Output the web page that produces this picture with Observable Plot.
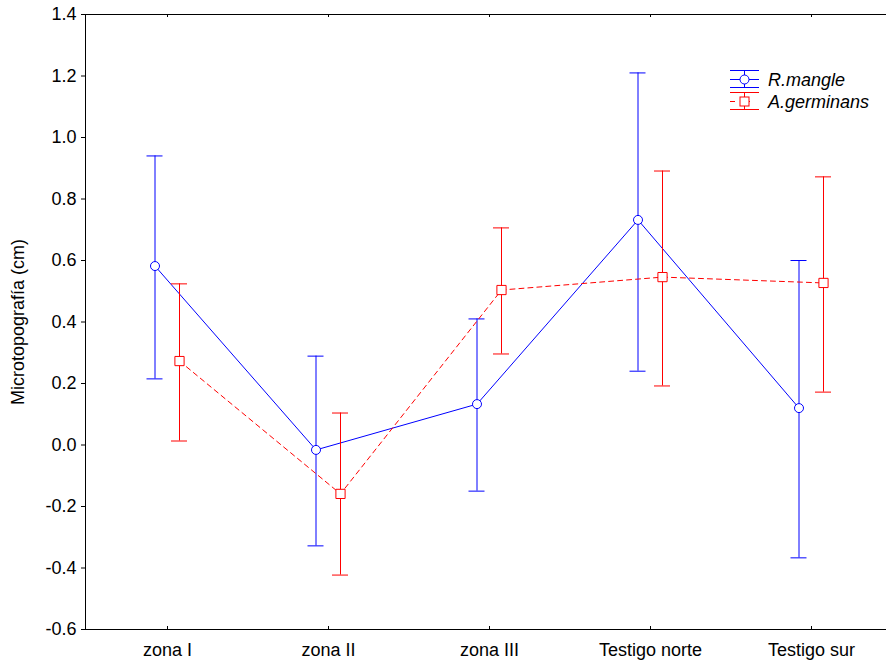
<!DOCTYPE html>
<html><head><meta charset="utf-8">
<script src="https://cdn.jsdelivr.net/npm/d3@7"></script>
<script src="https://cdn.jsdelivr.net/npm/@observablehq/plot@0.6"></script>
<style>
body{margin:0;background:#fff;overflow:hidden;font-family:"Liberation Sans",Arial,sans-serif}
#wrap{position:relative;width:886px;height:662px;overflow:hidden}
#legend{position:absolute;left:0;top:0;pointer-events:none}
</style></head><body><div id="wrap"></div>
<script>
const zonas = ["zona I", "zona II", "zona III", "Testigo norte", "Testigo sur"];
const series = ["R.mangle", "A.germinans"];
const rmMedia = [0.582, -0.016, 0.133, 0.732, 0.120];
const rmSup   = [0.940,  0.289, 0.410, 1.210, 0.600];
const rmInf   = [0.215, -0.328, -0.150, 0.240, -0.367];
const agMedia = [0.273, -0.159, 0.504, 0.546, 0.527];
const agSup   = [0.524,  0.104, 0.706, 0.891, 0.872];
const agInf   = [0.013, -0.423, 0.296, 0.192, 0.172];
const yTicks  = [-0.6, -0.4, -0.2, 0.0, 0.2, 0.4, 0.6, 0.8, 1.0, 1.2, 1.4];

const rm = zonas.map((z, i) => ({zona: z, media: rmMedia[i], sup: rmSup[i], inf: rmInf[i]}));
const ag = zonas.map((z, i) => ({zona: z, media: agMedia[i], sup: agSup[i], inf: agInf[i]}));

const BLUE = "#0000ff", RED = "#ff0000";
const W = 886, H = 662, mL = 85, mT = 14, mB = 33, mR = -6;
const plotH = H - mT - mB;

function serie(data, color, dx, dash, symbol, r) {
  return [
    Plot.line(data, {x: "zona", y: "media", stroke: color, strokeWidth: 1, strokeDasharray: dash, dx}),
    Plot.ruleX(data, {x: "zona", y1: "inf", y2: "sup", stroke: color, strokeWidth: 1, dx}),
    Plot.ruleY(data, {x1: "zona", x2: "zona", y: "sup", stroke: color, strokeWidth: 1, insetLeft: -8, insetRight: -8, dx}),
    Plot.ruleY(data, {x1: "zona", x2: "zona", y: "inf", stroke: color, strokeWidth: 1, insetLeft: -8, insetRight: -8, dx}),
    Plot.dot(data, {x: "zona", y: "media", stroke: color, fill: "white", strokeWidth: 1, symbol, r, dx})
  ];
}

const chart = Plot.plot({
  width: W, height: H,
  marginLeft: mL, marginTop: mT, marginBottom: mB, marginRight: mR,
  style: {fontFamily: "'Liberation Sans', Arial, sans-serif", fontSize: "18px", background: "white", overflow: "visible", color: "#000"},
  x: {type: "point", domain: zonas, padding: 0.5},
  y: {domain: [-0.6, 1.4]},
  marks: [
    Plot.ruleX(zonas, {x: d => d, insetTop: plotH - 3, stroke: "#000"}),
    Plot.ruleX(zonas, {x: d => d, insetBottom: plotH - 3, stroke: "#000"}),
    Plot.axisY({ticks: yTicks, tickFormat: d => d.toFixed(1), tickSize: 4, tickPadding: 5, fontSize: 18,
      label: "Microtopografía (cm)", labelAnchor: "center", labelOffset: 74, labelArrow: "none"}),
    Plot.axisX({tickSize: 0, tickPadding: 14, fontSize: 18, label: null}),
    ...serie(rm, BLUE, -12.5, null, "circle", 4.5),
    ...serie(ag, RED, 12, "5,4", "square", 5.2),
    Plot.frame({stroke: "#000", strokeWidth: 1})
  ]
});
const wrap = document.getElementById("wrap");
wrap.appendChild(chart);

// Legend overlay
const lg = d3.select(wrap).append("svg").attr("id", "legend").attr("width", W).attr("height", H);
const items = [
  {name: series[0], color: BLUE, cy: 79, dash: null, sym: "circle"},
  {name: series[1], color: RED, cy: 101, dash: "5,10", sym: "square"}
];
for (const it of items) {
  const g = lg.append("g").attr("stroke", it.color).attr("fill", "none").attr("stroke-width", 1);
  g.append("line").attr("x1", 730).attr("x2", 759).attr("y1", it.cy - 8.5).attr("y2", it.cy - 8.5);
  g.append("line").attr("x1", 730).attr("x2", 759).attr("y1", it.cy + 8.5).attr("y2", it.cy + 8.5);
  g.append("line").attr("x1", 744.5).attr("x2", 744.5).attr("y1", it.cy - 8.5).attr("y2", it.cy + 8.5);
  g.append("line").attr("x1", 730).attr("x2", 759).attr("y1", it.cy + 0.5).attr("y2", it.cy + 0.5).attr("stroke-dasharray", it.dash);
  if (it.sym === "circle") g.append("circle").attr("cx", 744.5).attr("cy", it.cy + 0.5).attr("r", 4.5).attr("fill", "white");
  else g.append("rect").attr("x", 740).attr("y", it.cy - 4).attr("width", 9).attr("height", 9).attr("fill", "white");
  lg.append("text").attr("x", 768).attr("y", it.cy + 7).attr("font-size", 18).attr("font-style", "italic")
    .attr("font-family", "'Liberation Sans', Arial, sans-serif").attr("fill", "#000").text(it.name);
}
</script></body></html>
